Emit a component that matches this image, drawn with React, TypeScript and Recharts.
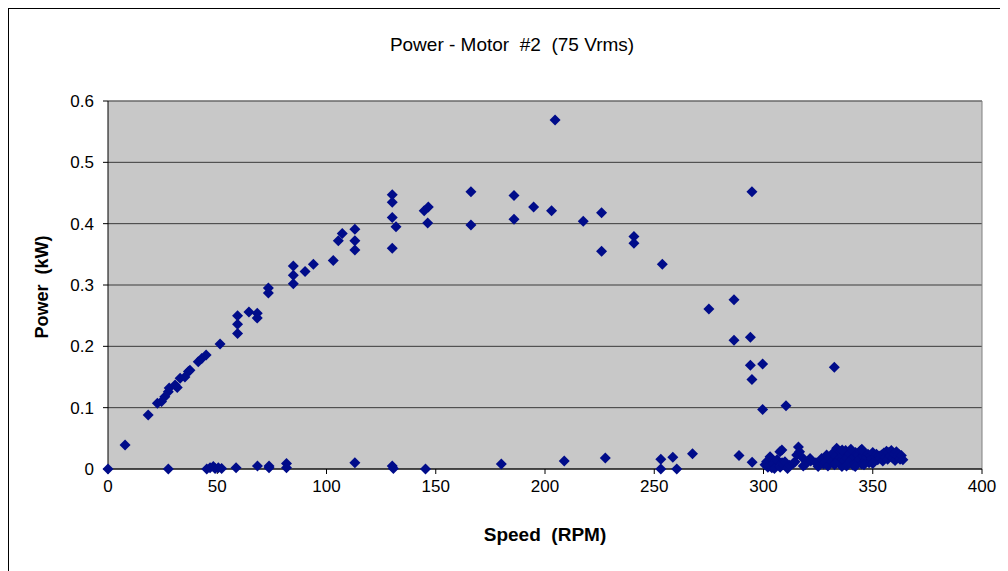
import React from 'react';
import {
  ScatterChart,
  Scatter,
  XAxis,
  YAxis,
  CartesianGrid,
  ReferenceLine,
} from 'recharts';

// [speed RPM, power kW]
const loadedBranch: [number, number][] = [
  [0, 0], [7.8, 0.039], [18.4, 0.088], [22.6, 0.107], [24.5, 0.11], [26, 0.118],
  [27.6, 0.126], [28, 0.132], [30.7, 0.137], [31.7, 0.133], [33, 0.148], [35.2, 0.15],
  [36.8, 0.159], [37.5, 0.161], [41.3, 0.175], [42.9, 0.18], [44.9, 0.186], [51.3, 0.204],
  [59.3, 0.221], [59.3, 0.236], [59.3, 0.25], [64.5, 0.256], [68.3, 0.254], [68.3, 0.246],
  [73.4, 0.287], [73.4, 0.295], [84.8, 0.302], [84.8, 0.316], [84.8, 0.331], [90.2, 0.322],
  [94, 0.334], [103.1, 0.34], [105.4, 0.372], [107.2, 0.384], [113, 0.391], [113, 0.372],
  [113, 0.357], [130.1, 0.447], [130.1, 0.435], [130.1, 0.41], [131.8, 0.395], [130.1, 0.36],
  [144.7, 0.421], [146.6, 0.427], [146.3, 0.401], [166.1, 0.452], [166.1, 0.398],
  [185.8, 0.446], [185.8, 0.407], [194.8, 0.427], [203, 0.421], [204.6, 0.569],
  [217.5, 0.404], [225.9, 0.418], [225.9, 0.355], [240.7, 0.379], [240.7, 0.368],
  [253.7, 0.334], [275, 0.261], [286.5, 0.276], [286.5, 0.21], [294, 0.215], [294, 0.169],
  [294.7, 0.146], [294.7, 0.452], [299.6, 0.171], [299.6, 0.097], [310.3, 0.103],
  [332.4, 0.166],
];

const idlePoints: [number, number][] = [
  [27.6, 0], [45.2, 0], [46.7, 0.002], [48.2, 0.004], [49, 0.001], [50.5, 0.002],
  [52, 0.001], [58.6, 0.002], [68.4, 0.005], [73.7, 0.005], [73.7, 0.002], [81.7, 0.009],
  [81.7, 0.002], [113, 0.01], [130.1, 0.005], [130.6, 0.001], [145.3, 0], [180, 0.008],
  [208.8, 0.013], [227.6, 0.018], [253, 0.016], [253, 0], [258.5, 0.019], [260.3, 0],
  [267.5, 0.025], [288.8, 0.022], [294.8, 0.011],
];

const highSpeedCluster: [number, number][] = [
  [300.7, 0.007], [301.4, 0.012], [302, 0.003], [303, 0.02], [303.8, 0.002], [304.5, 0.009],
  [305, 0.001], [306.2, 0.015], [307.5, 0.028], [307.6, 0.003], [308.4, 0.031], [308.5, 0.01],
  [309.8, 0.012], [311, 0.001], [312, 0.006], [313.6, 0.009], [314.4, 0.012], [315.2, 0.023],
  [316, 0.036], [316.5, 0.028], [318.2, 0.017], [318.2, 0.005], [319, 0.007], [321.3, 0.017],
  [321.6, 0.013], [324, 0.01], [325, 0.004],
  [326.6, 0.017], [327.5, 0.008], [328.2, 0.012], [328.9, 0.023], [329.5, 0.005], [330.2, 0.018],
  [331.2, 0.012], [331.8, 0.026], [332.5, 0.007], [333, 0.02], [333.5, 0.034], [334.1, 0.015],
  [334.8, 0.01], [335.3, 0.028], [335.9, 0.004], [336.4, 0.022], [337, 0.013], [337.6, 0.03],
  [338.1, 0.018], [338.7, 0.008], [339.3, 0.025], [339.8, 0.014], [340.4, 0.029], [341, 0.006],
  [341.5, 0.02], [342.1, 0.027], [342.7, 0.011], [343.2, 0.023], [343.8, 0.016], [344.4, 0.03],
  [344.9, 0.008], [345.5, 0.021], [346.1, 0.026], [346.6, 0.013], [347.2, 0.019], [347.8, 0.024],
  [348.3, 0.01], [348.9, 0.022], [349.5, 0.017], [350, 0.027], [350.6, 0.012], [351.2, 0.02],
  [351.7, 0.024], [352.3, 0.015], [352.9, 0.021], [353.4, 0.018], [354, 0.023], [354.6, 0.013],
  [355.1, 0.026], [355.7, 0.019], [356.3, 0.029], [356.8, 0.016], [357.4, 0.027], [358, 0.021],
  [358.5, 0.03], [359.1, 0.018], [359.7, 0.025], [360.2, 0.014], [360.8, 0.028], [361.4, 0.02],
  [361.9, 0.024], [362.5, 0.016], [363.1, 0.022], [363.8, 0.015], [340, 0.032], [336, 0.031],
  [345, 0.032], [333, 0.009], [338, 0.005], [342, 0.004], [346, 0.007], [350, 0.009],
];

const xTicks = [0, 50, 100, 150, 200, 250, 300, 350, 400];
const yTicks = [0, 0.1, 0.2, 0.3, 0.4, 0.5, 0.6];

const points = [...loadedBranch, ...idlePoints, ...highSpeedCluster].map(([x, y]) => ({ x, y }));

const font = '"Liberation Sans", Arial, sans-serif';
const markerColor = '#000c8a';

const Diamond = (props: any) => {
  const { cx, cy } = props;
  if (cx == null || cy == null) return null;
  const r = 5.5;
  return (
    <polygon
      points={`${cx},${cy - r} ${cx + r},${cy} ${cx},${cy + r} ${cx - r},${cy}`}
      fill={markerColor}
    />
  );
};

export default function App() {
  return (
    <div
      style={{
        position: 'relative',
        width: 999,
        height: 562,
        borderLeft: '1px solid #000',
        borderTop: '1px solid #000',
        background: '#fff',
        fontFamily: font,
      }}
    >
      <div
        style={{
          position: 'absolute',
          top: 25,
          left: 0,
          width: 1006,
          textAlign: 'center',
          fontSize: 19,
          whiteSpace: 'pre',
        }}
      >
        {'Power - Motor  #2  (75 Vrms)'}
      </div>
      <div
        style={{
          position: 'absolute',
          top: 515,
          left: 99,
          width: 874,
          textAlign: 'center',
          fontSize: 19,
          fontWeight: 'bold',
          whiteSpace: 'pre',
        }}
      >
        {'Speed  (RPM)'}
      </div>
      <div
        style={{
          position: 'absolute',
          left: 33 - 100,
          top: 278 - 11,
          width: 200,
          height: 22,
          lineHeight: '22px',
          textAlign: 'center',
          fontSize: 18,
          fontWeight: 'bold',
          transform: 'rotate(-90deg)',
          whiteSpace: 'pre',
        }}
      >
        {'Power  (kW)'}
      </div>
      <ScatterChart
        width={999}
        height={562}
        margin={{ top: 92, right: 26, left: 39, bottom: 72 }}
        style={{ position: 'absolute', left: 0, top: 0 }}
      >
        <CartesianGrid vertical={false} fill="#c8c8c8" stroke="#3a3a3a" strokeOpacity={1} />
        <XAxis
          type="number"
          dataKey="x"
          domain={[0, 400]}
          ticks={xTicks}
          height={30}
          stroke="#000"
          tickSize={5}
          tickMargin={6}
          tick={{ fill: '#000', fontSize: 17, fontFamily: font }}
        />
        <YAxis
          type="number"
          dataKey="y"
          domain={[0, 0.6]}
          ticks={yTicks}
          width={60}
          stroke="#000"
          tickSize={5}
          tickMargin={9}
          tick={{ fill: '#000', fontSize: 17, fontFamily: font }}
          tickFormatter={(v: number) => String(v)}
        />
        <ReferenceLine x={400} stroke="#808080" />
        <ReferenceLine y={0.6} stroke="#808080" />
        <Scatter data={points} shape={<Diamond />} isAnimationActive={false} />
      </ScatterChart>
    </div>
  );
}
